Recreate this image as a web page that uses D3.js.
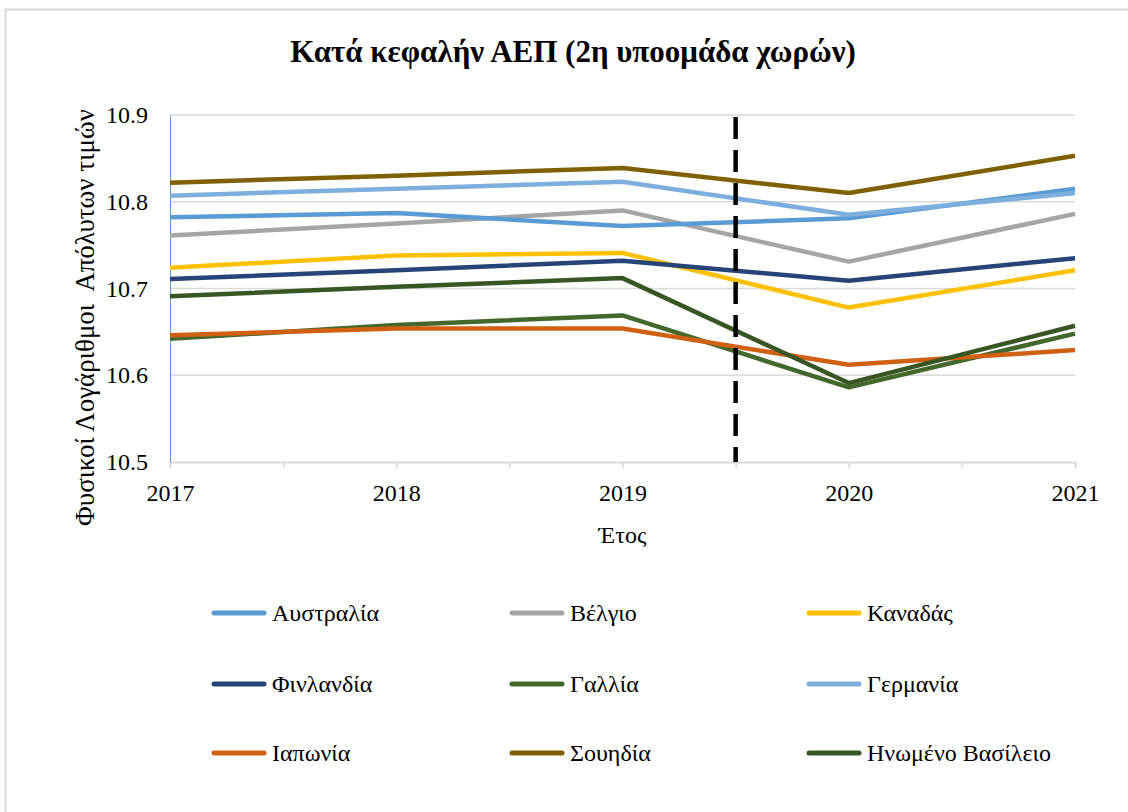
<!DOCTYPE html>
<html>
<head>
<meta charset='UTF-8'>
<title>Κατά κεφαλήν ΑΕΠ</title>
<script src='https://cdn.jsdelivr.net/npm/d3@7'></script>
<style>
  body { margin:0; background:#fff; }
  text { font-family:'Liberation Serif', 'Times New Roman', serif; fill:#000; }
  .line { fill:none; stroke-width:4.5px; stroke-linejoin:round; }
</style>
</head>
<body>
<div id='lineChart'></div>
<script>
var years = [2017, 2018, 2019, 2020, 2021];
var countries = ['Αυστραλία', 'Βέλγιο', 'Καναδάς', 'Φινλανδία', 'Γαλλία', 'Γερμανία', 'Ιαπωνία', 'Σουηδία', 'Ηνωμένο Βασίλειο'];
var colors = ['#5b9bd5', '#a5a5a5', '#ffc000', '#264478', '#43682b', '#7cafdd', '#d26012', '#7f6000', '#375623'];

var australia = [10.782, 10.787, 10.772, 10.781, 10.815];
var belgium   = [10.761, 10.775, 10.790, 10.731, 10.786];
var canada    = [10.724, 10.738, 10.741, 10.678, 10.721];
var finland   = [10.711, 10.721, 10.732, 10.709, 10.735];
var france    = [10.642, 10.658, 10.669, 10.586, 10.648];
var germany   = [10.807, 10.815, 10.823, 10.785, 10.810];
var japan     = [10.646, 10.654, 10.654, 10.612, 10.629];
var sweden    = [10.822, 10.830, 10.839, 10.810, 10.853];
var uk        = [10.691, 10.702, 10.712, 10.591, 10.657];

var yTicks = [10.5, 10.6, 10.7, 10.8, 10.9];
var breakYear = 2019.5;

var series = [australia, belgium, canada, finland, france, germany, japan, sweden, uk];
// draw order: later series on top (as in the original)
var drawOrder = [1, 0, 2, 3, 4, 5, 6, 7, 8];

var width = 1128, height = 812;
var plot = {left:170, right:1075, top:115, bottom:462};

var svg = d3.select('#lineChart').append('svg')
  .attr('width', width)
  .attr('height', height);

/* chart border */
svg.append('rect')
  .attr('x', 5.5).attr('y', 9.5)
  .attr('width', width + 10).attr('height', height + 10)
  .attr('fill', '#fff')
  .attr('stroke', '#d9d9d9')
  .attr('stroke-width', 2);

/* Scales */
var xScale = d3.scaleLinear()
  .domain([years[0], years[years.length - 1]])
  .range([plot.left, plot.right]);

var yScale = d3.scaleLinear()
  .domain([yTicks[0], yTicks[yTicks.length - 1]])
  .range([plot.bottom, plot.top]);

/* Gridlines */
svg.append('g')
  .selectAll('line')
  .data(yTicks.slice(1)).enter()
  .append('line')
  .attr('x1', plot.left).attr('x2', plot.right)
  .attr('y1', d => yScale(d)).attr('y2', d => yScale(d))
  .attr('stroke', '#d9d9d9')
  .attr('stroke-width', 1.5);

/* X axis */
var halfTicks = d3.range(years[0], years[years.length - 1] + 0.01, 0.5);
var xAxis = d3.axisBottom(xScale)
  .tickValues(halfTicks)
  .tickSize(6)
  .tickFormat(d => Number.isInteger(d) ? d : '');

var gx = svg.append('g')
  .attr('transform', `translate(0, ${plot.bottom})`)
  .call(xAxis);
gx.select('.domain').attr('stroke', '#d9d9d9').attr('stroke-width', 2);
gx.selectAll('.tick line').attr('stroke', '#d9d9d9').attr('stroke-width', 1.5);
gx.selectAll('.tick text')
  .attr('dy', 0)
  .attr('y', 39)
  .style('font-size', '24px');

/* Y axis */
var yAxis = d3.axisLeft(yScale)
  .tickValues(yTicks)
  .tickSize(0)
  .tickPadding(22)
  .tickFormat(d3.format('.1f'));

var gy = svg.append('g')
  .attr('transform', `translate(${plot.left}, 0)`)
  .call(yAxis);
gy.select('.domain').attr('stroke', '#5b9bd5').attr('stroke-width', 1);
gy.selectAll('.tick text').style('font-size', '24px');

/* Lines */
var line = d3.line()
  .x((d, i) => xScale(years[i]))
  .y(d => yScale(d));

svg.append('g')
  .selectAll('path')
  .data(drawOrder).enter()
  .append('path')
  .attr('class', 'line')
  .attr('d', i => line(series[i]))
  .style('stroke', i => colors[i]);

/* Break line */
svg.append('line')
  .attr('x1', xScale(breakYear)).attr('x2', xScale(breakYear))
  .attr('y1', plot.top + 2).attr('y2', plot.bottom)
  .attr('stroke', '#000')
  .attr('stroke-width', 4.5)
  .attr('stroke-dasharray', '22,11');

/* Titles */
svg.append('text')
  .attr('x', 573).attr('y', 62)
  .attr('text-anchor', 'middle')
  .style('font-size', '31px')
  .style('font-weight', 'bold')
  .text('Κατά κεφαλήν ΑΕΠ (2η υποομάδα χωρών)');

svg.append('text')
  .attr('x', (plot.left + plot.right) / 2).attr('y', 543)
  .attr('text-anchor', 'middle')
  .style('font-size', '24px')
  .text('Έτος');

svg.append('text')
  .attr('transform', `translate(94, ${(plot.top + 520) / 2}) rotate(-90)`)
  .attr('text-anchor', 'middle')
  .style('font-size', '27px')
  .style('white-space', 'pre')
  .text('Φυσικοί Λογάριθμοι  Απόλυτων τιμών');

/* Legend */
var legendCols = [212, 510, 807];
var legendRows = [613, 684, 753];

var legend = svg.append('g')
  .selectAll('g')
  .data(countries).enter()
  .append('g')
  .attr('transform', (d, i) => `translate(${legendCols[i % 3]}, ${legendRows[Math.floor(i / 3)]})`);

legend.append('line')
  .attr('x1', 2).attr('x2', 52)
  .attr('y1', 0).attr('y2', 0)
  .attr('stroke', (d, i) => colors[i])
  .attr('stroke-width', 5)
  .attr('stroke-linecap', 'round');

legend.append('text')
  .attr('x', 60).attr('y', 8)
  .style('font-size', '24px')
  .text(d => d);
</script>
</body>
</html>
